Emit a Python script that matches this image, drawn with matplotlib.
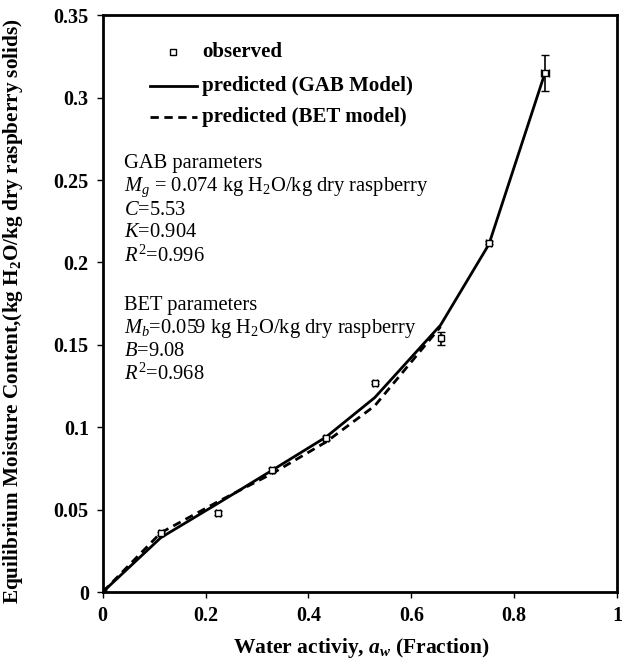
import matplotlib
matplotlib.use("Agg")
import matplotlib.pyplot as plt

# observed data
aw_obs = [0.0, 0.113, 0.225, 0.330, 0.434, 0.529, 0.657, 0.751, 0.860]
m_obs = [0.0, 0.0356, 0.048, 0.074, 0.0935, 0.127, 0.154, 0.212, 0.315]
m_err = [0.0, 0.001, 0.001, 0.001, 0.001, 0.001, 0.004, 0.001, 0.011]
aw_err = [0.0, 0.004, 0.004, 0.004, 0.004, 0.004, 0.002, 0.005, 0.008]

# GAB predicted
aw_gab = [0.0, 0.113, 0.225, 0.330, 0.434, 0.529, 0.657, 0.751, 0.860]
m_gab = [0.0, 0.033, 0.054, 0.074, 0.094, 0.118, 0.162, 0.211, 0.315]

# BET predicted
aw_bet = [0.0, 0.113, 0.225, 0.330, 0.434, 0.529, 0.657]
m_bet = [0.0, 0.036, 0.055, 0.072, 0.091, 0.113, 0.161]

xticks = [0, 0.2, 0.4, 0.6, 0.8, 1.0]
xticklabels = ["0", "0.2", "0.4", "0.6", "0.8", "1"]
yticks = [0, 0.05, 0.1, 0.15, 0.2, 0.25, 0.3, 0.35]
yticklabels = ["0", "0.05", "0.1", "0.15", "0.2", "0.25", "0.3", "0.35"]

plt.rcParams['font.family'] = ['Liberation Serif', 'DejaVu Serif']
plt.rcParams['mathtext.fontset'] = 'custom'
plt.rcParams['mathtext.rm'] = 'Liberation Serif'
plt.rcParams['mathtext.it'] = 'Liberation Serif:italic'
plt.rcParams['mathtext.bf'] = 'Liberation Serif:bold'
plt.rcParams['mathtext.bfit'] = 'Liberation Serif:italic:bold'

fig = plt.figure(figsize=(6.27, 6.63), dpi=100)
ax = fig.add_axes([0.1638, 0.107, 0.8202, 0.870])

ax.plot(aw_gab, m_gab, '-', color='black', lw=2.0, zorder=3)
ax.plot(aw_bet, m_bet, '--', color='black', lw=2.0, dashes=(3, 2), zorder=3)
ax.errorbar(aw_obs, m_obs, yerr=m_err, xerr=aw_err, fmt='s', mfc='white',
            mec='black', ms=4.5, mew=1.0, ecolor='black', elinewidth=1.2,
            capsize=3, zorder=4)
ax.plot([0], [0], 's', color='black', ms=5, zorder=5)

ax.set_xlim(0, 1)
ax.set_ylim(0, 0.35)
ax.set_xticks(xticks)
ax.set_xticklabels(xticklabels, fontsize=14.5, fontweight='bold')
ax.set_yticks(yticks)
ax.set_yticklabels(yticklabels, fontsize=14.5, fontweight='bold')
ax.tick_params(direction='out', length=4, width=1, pad=6)
for s in ax.spines.values():
    s.set_linewidth(2.0)

ax.set_xlabel("Water activiy, $\\mathbfit{a}_\\mathbfit{w}$ (Fraction)", fontsize=15.5, fontweight='bold')
ax.xaxis.set_label_coords(0.502, -0.077)
ax.set_ylabel("Equilibrium Moisture Content,(kg H$_\\mathbf{2}$O/kg dry raspberry solids)",
              fontsize=15.3, fontweight='bold')
ax.yaxis.set_label_coords(-0.152, 0.487)

# legend (manual)
def px2ax(x, y):
    return ((x - 102.7) / (617 - 102.7), (592 - y) / (592 - 15))

lx, ly = px2ax(173, 52)
ax.plot([lx], [ly], 's', mfc='white', mec='black', ms=4.5, mew=1.0, transform=ax.transAxes, clip_on=False)
x1, y1 = px2ax(150, 86)
x2, _ = px2ax(197, 86)
ax.plot([x1, x2], [y1, y1], '-', color='black', lw=2.0, transform=ax.transAxes)
_, y2 = px2ax(150, 117)
ax.plot([x1, x2], [y2, y2], '--', color='black', lw=2.0, dashes=(3, 2), transform=ax.transAxes)
tx, _ = px2ax(202, 0)
ax.text(tx, ly, "observed", transform=ax.transAxes, fontsize=15, fontweight='bold', va='center')
ax.text(tx, y1, "predicted (GAB Model)", transform=ax.transAxes, fontsize=15, fontweight='bold', va='center')
ax.text(tx, y2, "predicted (BET model)", transform=ax.transAxes, fontsize=15, fontweight='bold', va='center')

params = [
    (163, "GAB parameters"),
    (187, "$M_g$ = 0.074 kg H$_2$O/kg dry raspberry"),
    (210, "$C$=5.53"),
    (232, "$K$=0.904"),
    (256, "$R^2$=0.996"),
    (305, "BET parameters"),
    (328, "$M_b$=0.059 kg H$_2$O/kg dry raspberry"),
    (351, "$B$=9.08"),
    (374, "$R^2$=0.968"),
]
px_, _ = px2ax(124, 0)
for ypx, txt in params:
    _, yy = px2ax(124, ypx)
    ax.text(px_, yy, txt, transform=ax.transAxes, fontsize=14.8, va='center')

fig.savefig("out.png", dpi=100)
